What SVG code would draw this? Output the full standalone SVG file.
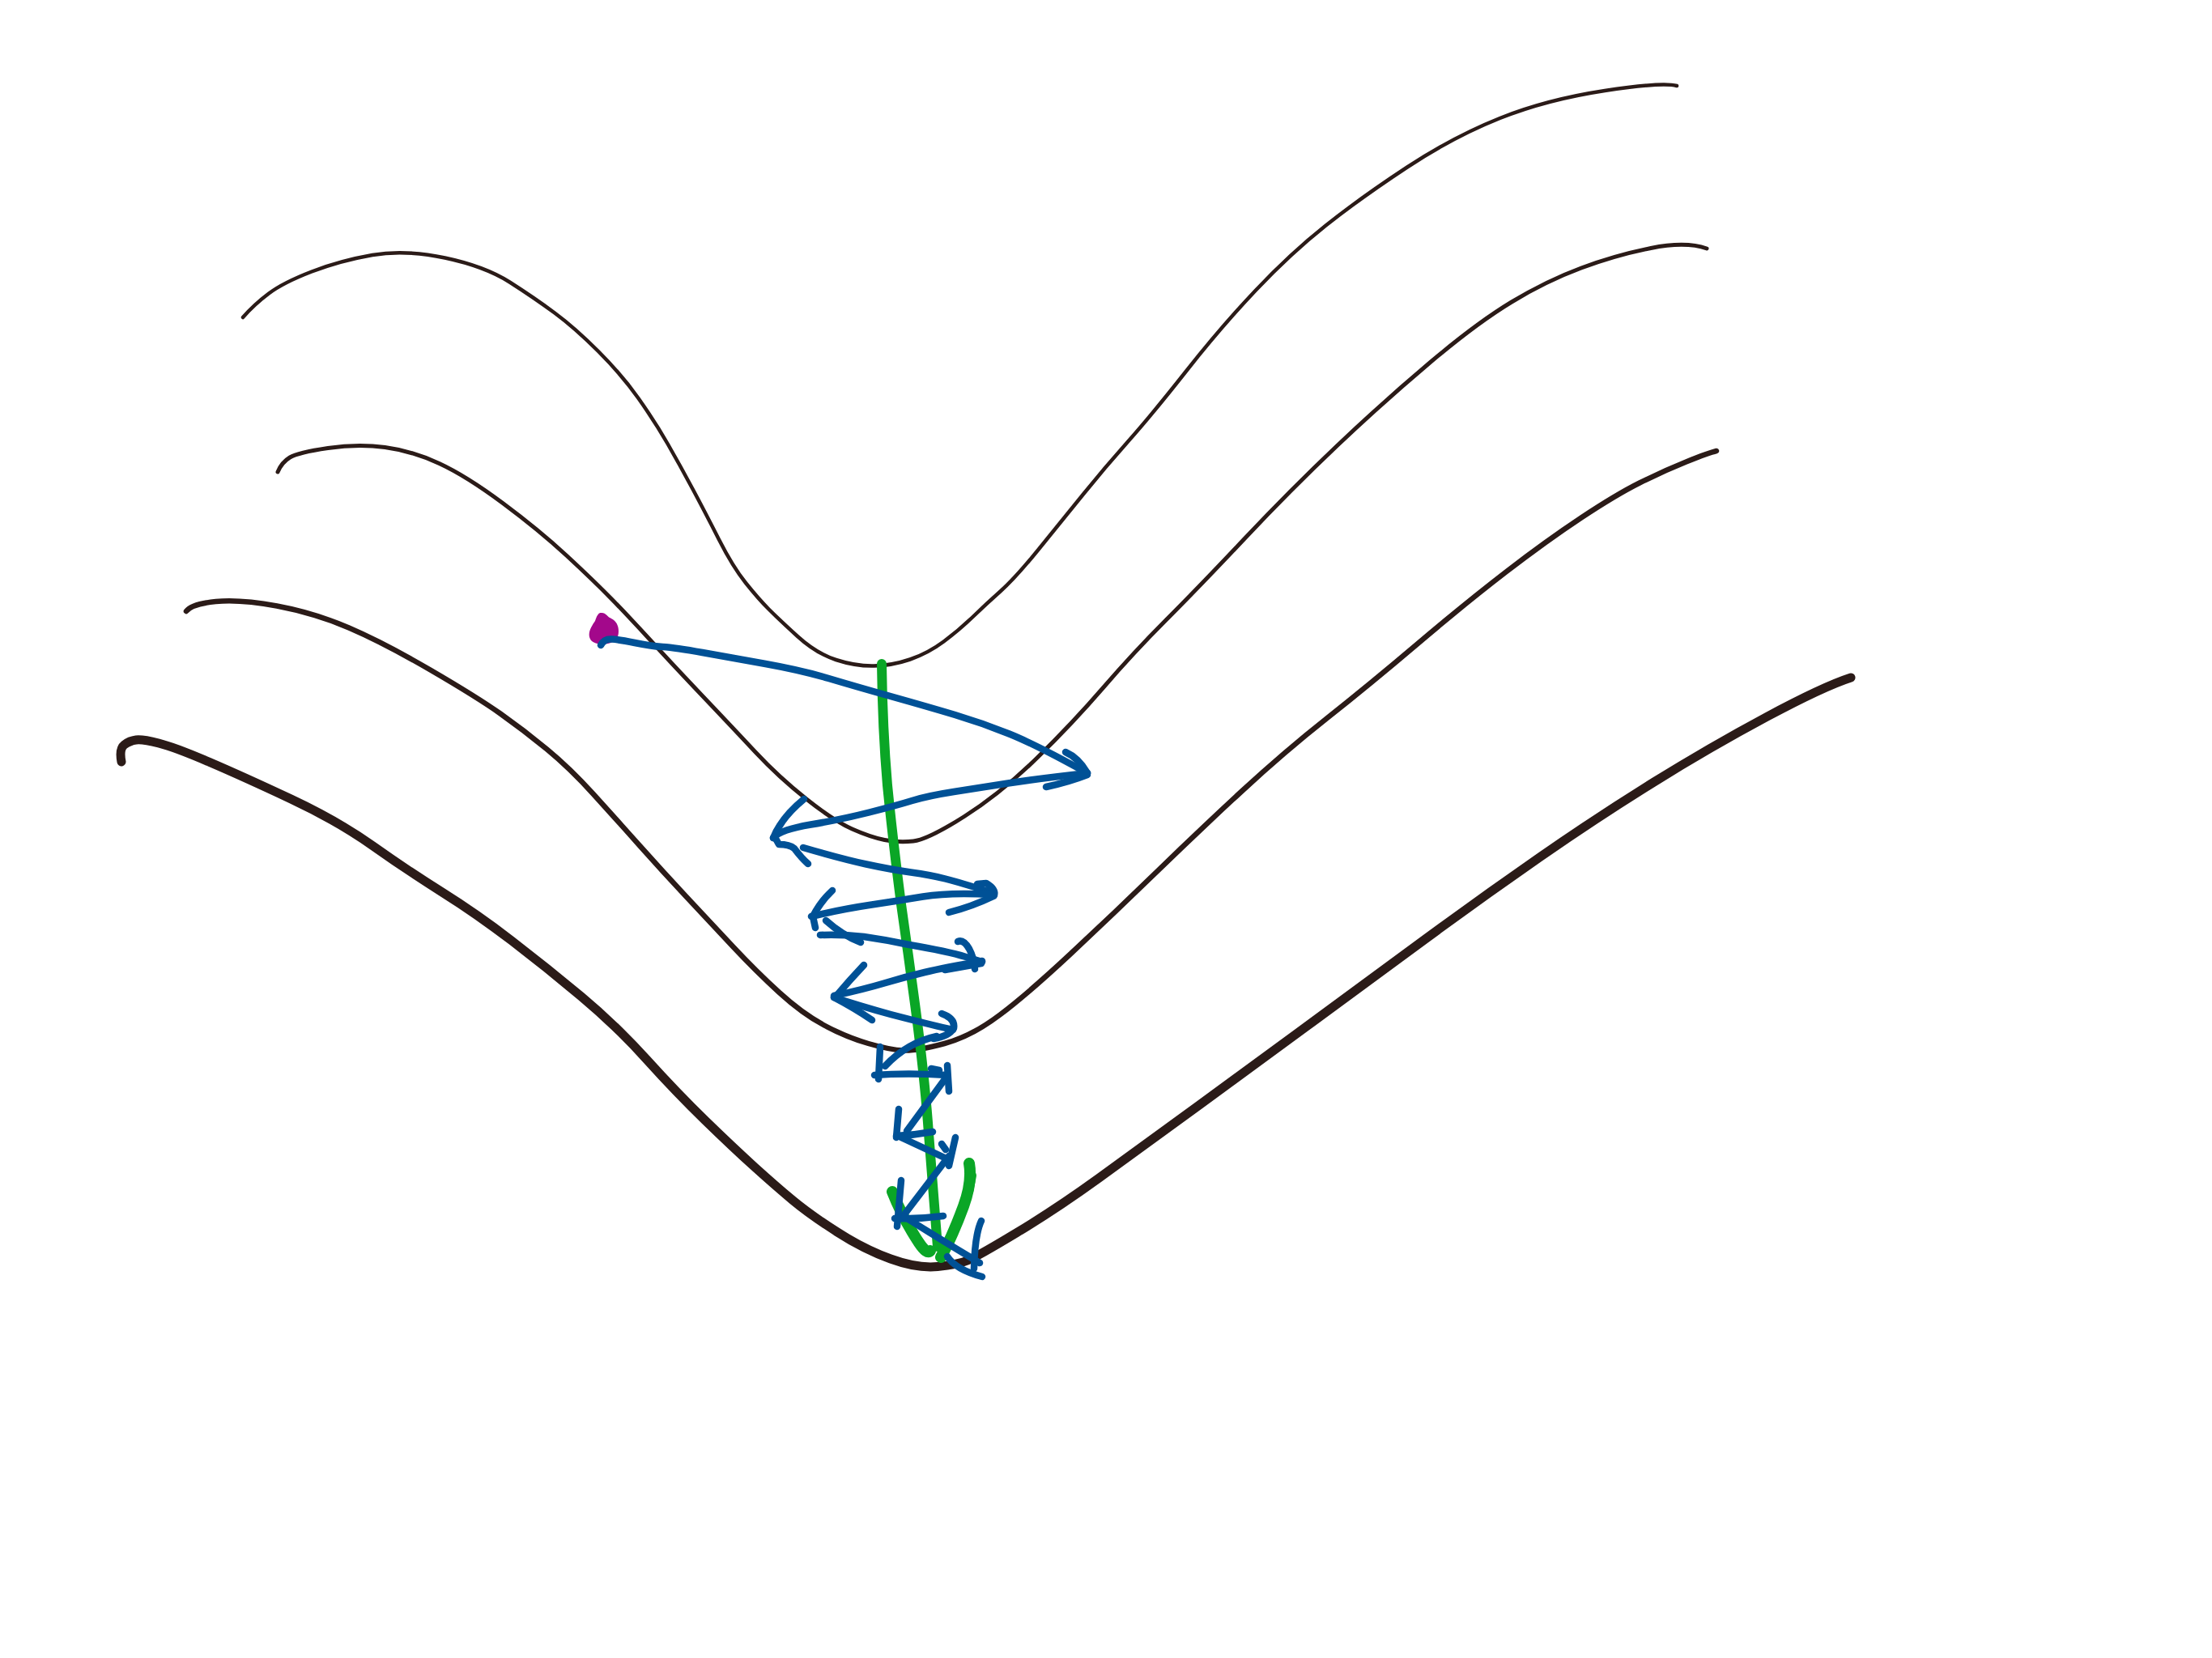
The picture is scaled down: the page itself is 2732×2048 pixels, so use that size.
<svg xmlns="http://www.w3.org/2000/svg" width="2732" height="2048" viewBox="0 0 2732 2048">
<style>
.k{fill:none;stroke:#2b1b18;stroke-linecap:round;stroke-linejoin:round}
.g{fill:none;stroke:#0aa626;stroke-linecap:round;stroke-linejoin:round}
.b{fill:none;stroke:#005196;stroke-width:8.5;stroke-linecap:round;stroke-linejoin:round}
</style>
<rect width="2732" height="2048" fill="#ffffff"/>
<g id="contours">
<path id="contour1" class="k" stroke-width="4.5" d="M300,392 Q314,376 332,362.5 Q350,349 385,335.5 Q420,322 460,315 Q500,308 549.5,318.5 Q599,329 629.5,348.5 Q660,368 685,386.5 Q710,405 739,434 Q768,463 788.5,492 Q809,521 824.5,548 Q840,575 855.5,604 Q871,633 888,666.5 Q905,700 921,720 Q937,740 949.5,752.5 Q962,765 985,786 Q1008,807 1032.5,815 Q1057,823 1079.5,822.5 Q1102,822 1124,814.5 Q1146,807 1165.5,792.5 Q1185,778 1201.5,762 Q1218,746 1236,730 Q1254,714 1282,679.5 Q1310,645 1337.5,611 Q1365,577 1393.5,545 Q1422,513 1465,458.5 Q1508,404 1551,358.5 Q1594,313 1637.5,278.5 Q1681,244 1738,206.5 Q1795,169 1852.5,146 Q1910,123 1982,112 Q2054,101 2071,106"/>
<path id="contour2" class="k" stroke-width="5" d="M343,583 Q348,571 358,565 Q368,559 405,553.5 Q442,548 475.5,552.5 Q509,557 542.5,572.5 Q576,588 621,621.5 Q666,655 699.5,686 Q733,717 755,739.5 Q777,762 803.5,791 Q830,820 867.5,859.5 Q905,899 933.5,929.5 Q962,960 996,987 Q1030,1014 1052.5,1024 Q1075,1034 1092.5,1037.5 Q1110,1041 1128,1039 Q1146,1037 1191,1008.5 Q1236,980 1280.5,936.5 Q1325,893 1362.5,849.5 Q1400,806 1440,766 Q1480,726 1537,665.5 Q1594,605 1651.5,550.5 Q1709,496 1766.5,447.5 Q1824,399 1867,373 Q1910,347 1953,331 Q1996,315 2039,306.5 Q2082,298 2108,307"/>
<path id="contour3" class="k" stroke-width="6.5" d="M230,755 Q237,746 266.5,743 Q296,740 342,748.5 Q388,757 431,775.5 Q474,794 531.5,827.5 Q589,861 618,881.5 Q647,902 675.5,925.5 Q704,949 732.5,980.5 Q761,1012 790,1044.5 Q819,1077 847.5,1107.5 Q876,1138 905,1169 Q934,1200 962.5,1226 Q991,1252 1018,1266.5 Q1045,1281 1072.5,1289 Q1100,1297 1116.5,1297.5 Q1133,1298 1166.5,1289 Q1200,1280 1235,1253.5 Q1270,1227 1322.5,1178 Q1375,1129 1428,1077.5 Q1481,1026 1533.5,977.5 Q1586,929 1638.5,887.5 Q1691,846 1750.5,795.5 Q1810,745 1860,706.5 Q1910,668 1953,639.5 Q1996,611 2025,596.5 Q2054,582 2082.5,570.5 Q2111,559 2120,557"/>
<path id="contour4" class="k" stroke-width="11" d="M150,941 Q147,925 153.5,920 Q160,915 168,914 Q176,913 196,918 Q216,923 259,941.5 Q302,960 359.5,987 Q417,1014 460,1044.5 Q503,1075 546,1102 Q589,1129 632,1162 Q675,1195 718,1231 Q761,1267 798.5,1308.5 Q836,1350 871,1384 Q906,1418 932,1441.5 Q958,1465 979,1482.5 Q1000,1500 1033.5,1521.5 Q1067,1543 1100,1555 Q1133,1567 1158,1564.5 Q1183,1562 1195,1557 Q1207,1552 1256,1522.5 Q1305,1493 1357.5,1455 Q1410,1417 1480.5,1365.5 Q1551,1314 1621,1262.5 Q1691,1211 1761,1159.5 Q1831,1108 1901.5,1059 Q1972,1010 2042,966.5 Q2112,923 2182,885.5 Q2252,848 2286,837"/>
</g>
<g id="green-stem">
<path class="g" stroke-width="12" d="M1089,820 Q1090,900 1096,970 Q1103,1040 1113,1117 Q1122,1180 1130,1240 Q1142,1330 1147,1400 Q1153,1480 1158,1540"/>
<path class="g" stroke-width="14" d="M1102,1472 Q1115,1505 1135,1535 Q1145,1550 1149,1545"/>
<path class="g" stroke-width="14" d="M1197,1437 Q1201,1460 1190,1490 Q1176,1528 1162,1553"/>
<path class="g" stroke-width="10" d="M1201,1452 L1197,1472"/>
</g>
<g id="purple-dot">
<path fill="#a3088b" d="M742,757 C748,756 750,762 755,764 C764,768 766,780 762,789 C756,797 736,798 730,791 C724,783 731,773 735,767 C737,761 739,757 742,757 Z"/>
</g>
<g id="blue-spiral">
<path class="b" d="M742,797 Q746,789 755.5,789.5 Q765,790 784,794 Q803,798 818.5,799 Q834,800 867.5,806 Q901,812 945.5,820 Q990,828 1023.5,838 Q1057,848 1101.5,860.5 Q1146,873 1179.5,883 Q1213,893 1246.5,906.5 Q1280,920 1343,955"/>
<path class="b" stroke-width="11" d="M1316,929 Q1332,936 1343,955"/>
<path class="b" d="M1343,957 Q1320,966 1292,972"/>
<path class="b" d="M1343,955 Q1280,962 1245,967.5 Q1210,973 1178,978 Q1146,983 1126.5,989 Q1107,995 1073.5,1003.5 Q1040,1012 1001.5,1018.5 Q963,1025 955,1035"/>
<path class="b" d="M993,987 Q965,1010 955,1035"/>
<path class="b" d="M957,1034 L962,1043 Q975,1043 981,1048 Q990,1060 998,1067"/>
<path class="b" d="M992,1047 Q1040,1061 1070,1067.5 Q1100,1074 1125,1077.5 Q1150,1081 1167.5,1085.5 Q1185,1090 1227,1103"/>
<path class="b" stroke-width="12" d="M1207,1092 L1218,1091 Q1230,1098 1228,1106"/>
<path class="b" d="M1227,1107 Q1200,1120 1172,1127"/>
<path class="b" d="M1225,1105 Q1173,1102 1140,1107.5 Q1107,1113 1073.5,1118 Q1040,1123 1002,1132"/>
<path class="b" d="M1028,1100 Q1013,1114 1004,1132 L1007,1146"/>
<path class="b" d="M1020,1137 Q1040,1155 1063,1164"/>
<path class="b" d="M1013,1155 Q1040,1154 1067,1157 Q1095,1161 1123,1167 Q1170,1175 1193,1182 L1213,1188"/>
<path class="b" d="M1183,1163 Q1190,1160 1197,1172 Q1203,1183 1204,1197"/>
<path class="b" d="M1167,1198 L1212,1190"/>
<path class="b" d="M1213,1187 Q1167,1195 1142,1201 Q1117,1207 1092,1214.5 Q1067,1222 1030,1230"/>
<path class="b" d="M1067,1192 Q1050,1210 1033,1230"/>
<path class="b" d="M1030,1232 Q1055,1245 1077,1260"/>
<path class="b" d="M1030,1232 Q1060,1242 1100,1253 Q1150,1266 1177,1272"/>
<path class="b" d="M1163,1252 Q1180,1258 1178,1270 Q1172,1280 1153,1283"/>
<path class="b" d="M1157,1280 Q1120,1288 1093,1317"/>
<path class="b" d="M1087,1293 L1085,1333"/>
<path class="b" d="M1080,1328 Q1120,1325 1170,1328"/>
<path class="b" d="M1170,1316 L1172,1348"/>
<path class="b" d="M1150,1320 L1160,1322"/>
<path class="b" d="M1167,1333 L1120,1397"/>
<path class="b" d="M1110,1370 L1107,1405"/>
<path class="b" d="M1107,1403 Q1130,1402 1152,1398"/>
<path class="b" d="M1113,1405 L1173,1433"/>
<path class="b" d="M1180,1405 L1172,1440"/>
<path class="b" d="M1163,1413 L1168,1420"/>
<path class="b" d="M1172,1428 L1117,1500"/>
<path class="b" d="M1113,1458 L1108,1515"/>
<path class="b" d="M1105,1505 Q1135,1506 1165,1502"/>
<path class="b" d="M1117,1503 Q1160,1530 1210,1560"/>
<path class="b" d="M1212,1508 Q1204,1525 1203,1567"/>
<path class="b" d="M1170,1552 Q1180,1568 1213,1577"/>
</g>
</svg>
